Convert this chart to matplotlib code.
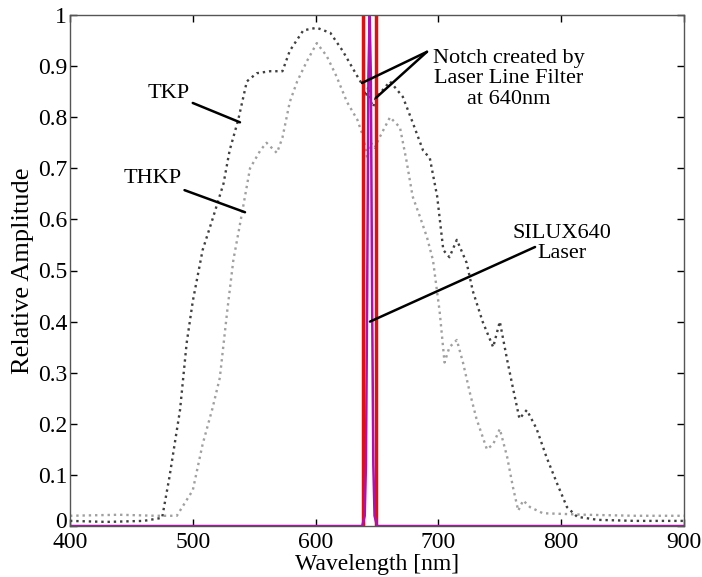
import numpy as np
import matplotlib.pyplot as plt
import matplotlib.transforms as mtransforms

plt.rcParams['font.family'] = ['Liberation Serif', 'DejaVu Serif']

# TKP spectrum (dark grey)
tkp_nm = [400, 430, 460, 475, 481, 489.6, 495, 500, 508, 516, 525, 530, 537, 544, 552, 563, 573,
          579, 590, 601, 612, 622, 634, 639, 641, 643, 645, 647, 649, 650, 660.6, 671, 679,
          687.5, 693, 699, 704, 709, 715, 723, 728, 736, 744.6, 750, 756, 760.7, 766, 772,
          780, 788, 796.5, 804.7, 813, 830, 860, 900]
tkp_val = [0.010, 0.008, 0.010, 0.016, 0.096, 0.227, 0.358, 0.44, 0.54, 0.60, 0.67, 0.735, 0.795,
           0.87, 0.886, 0.89, 0.89, 0.93, 0.97, 0.975, 0.965, 0.93, 0.88, 0.86, 0.84, 0.86,
           0.83, 0.82, 0.84, 0.84, 0.87, 0.84, 0.79, 0.735, 0.72, 0.645, 0.54, 0.526, 0.56,
           0.515, 0.46, 0.40, 0.35, 0.40, 0.325, 0.27, 0.21, 0.227, 0.19, 0.135, 0.084,
           0.037, 0.018, 0.012, 0.010, 0.010]

# THKP spectrum (light grey)
thkp_nm = [400, 440, 470, 487, 500, 508, 516, 522, 528, 533, 538, 542.5, 546.6, 555, 560, 568.5,
           573, 579, 585, 593, 601, 609, 617, 625.5, 634, 639, 642, 645, 648, 652, 660.6, 668.7,
           674, 679, 685, 690.7, 695.6, 701, 705, 709, 715, 720, 725.7, 731, 739.5, 744.6, 750,
           756, 760.7, 765, 769, 774.6, 785, 820, 860, 900]
thkp_val = [0.020, 0.022, 0.020, 0.020, 0.07, 0.16, 0.23, 0.29, 0.42, 0.52, 0.585, 0.645, 0.70,
            0.735, 0.75, 0.73, 0.76, 0.83, 0.87, 0.91, 0.945, 0.92, 0.88, 0.83, 0.795, 0.76,
            0.72, 0.75, 0.74, 0.76, 0.80, 0.78, 0.715, 0.645, 0.605, 0.565, 0.52, 0.42, 0.32,
            0.35, 0.364, 0.32, 0.26, 0.21, 0.15, 0.16, 0.19, 0.135, 0.076, 0.03, 0.05, 0.037,
            0.025, 0.022, 0.020, 0.020]

# SILUX640 laser line (magenta)
laser_nm = [400, 638, 640, 641, 642, 643, 644, 645, 646, 647, 648, 650, 900]
laser_val = [0.0, 0.0, 0.02, 0.12, 0.45, 0.88, 1.0, 0.88, 0.45, 0.12, 0.02, 0.0, 0.0]

# laser line filter pass band (red)
filter_nm = [639, 639, 649, 649]
filter_val = [0.0, 1.05, 1.05, 0.0]

fig = plt.figure(figsize=(7.02, 5.77), dpi=100)
ax = fig.add_axes([70/702, 51/577, 614/702, 511/577])

ax.plot(thkp_nm, thkp_val, ':', color='#a0a0a0', lw=1.7)
ax.plot(tkp_nm, tkp_val, ':', color='#404040', lw=1.7)
ax.plot(filter_nm, filter_val, '-', color='#e01010', lw=2.5)
ax.plot(laser_nm, laser_val, '-', color='#b010b0', lw=1.8)

ax.set_xlim(400, 900)
ax.set_ylim(0, 1)
ax.set_xticks(np.arange(400, 901, 100))
ax.set_yticks(np.arange(0, 1.01, 0.1))
ax.set_yticklabels(['0', '0.1', '0.2', '0.3', '0.4', '0.5', '0.6', '0.7', '0.8', '0.9', '1'])
ax.tick_params(direction='in', length=5, width=1, top=True, right=True, labelsize=17)
ax.tick_params(axis='x', pad=4)
ax.tick_params(axis='y', pad=2)
for s in ax.spines.values():
    s.set_color('#555555')
    s.set_linewidth(1)
ax.set_xlabel('Wavelength [nm]', fontsize=17, labelpad=1)
ax.set_ylabel('Relative Amplitude', fontsize=19, labelpad=3)

# nudge the "0" label up a little so it just sits on top of "400"
zero_lbl = ax.get_yticklabels()[0]
zero_lbl.set_transform(zero_lbl.get_transform() +
                       mtransforms.ScaledTranslation(0, 4/72, fig.dpi_scale_trans))

fs = 16
ax.annotate('TKP', xy=(538.4, 0.79), xytext=(497.7, 0.847), fontsize=fs,
            ha='right', va='center', arrowprops=dict(arrowstyle='-', color='black', lw=1.8,
                                                     shrinkA=0, shrinkB=0))
ax.annotate('THKP', xy=(542.5, 0.614), xytext=(491, 0.68), fontsize=fs,
            ha='right', va='center', arrowprops=dict(arrowstyle='-', color='black', lw=1.8,
                                                     shrinkA=0, shrinkB=0))
ax.annotate('', xy=(637.8, 0.867), xytext=(690.7, 0.928),
            arrowprops=dict(arrowstyle='-', color='black', lw=1.8, shrinkA=0, shrinkB=0))
ax.annotate('', xy=(649.2, 0.838), xytext=(690.7, 0.928),
            arrowprops=dict(arrowstyle='-', color='black', lw=1.8, shrinkA=0, shrinkB=0))
ax.text(757, 0.875, 'Notch created by\nLaser Line Filter\nat 640nm', fontsize=fs,
        ha='center', va='center', linespacing=1.1)
ax.annotate('', xy=(644.3, 0.40), xytext=(778.7, 0.546),
            arrowprops=dict(arrowstyle='-', color='black', lw=1.8, shrinkA=0, shrinkB=0))
ax.text(801, 0.553, 'SILUX640\nLaser', fontsize=fs, ha='center', va='center',
        linespacing=1.1)

fig.savefig('out.png', dpi=100)
